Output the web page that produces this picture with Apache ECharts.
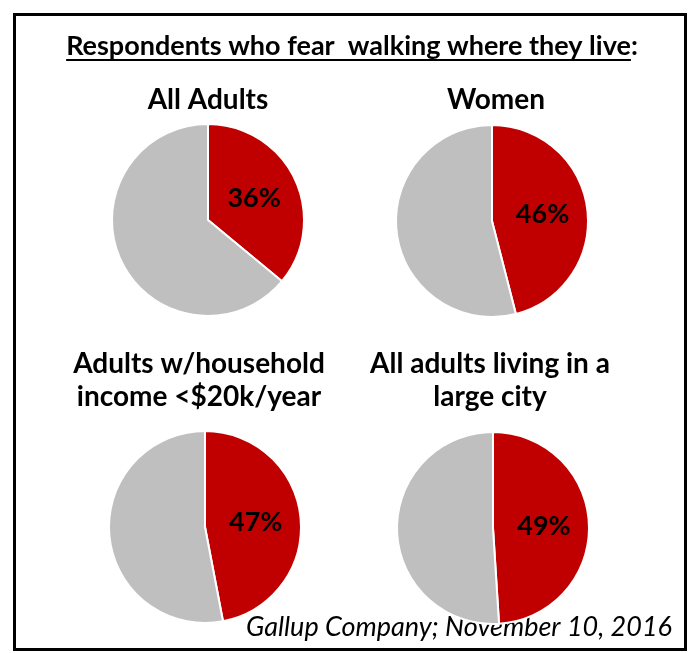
<!DOCTYPE html>
<html>
<head>
<meta charset="utf-8">
<script src="https://cdn.jsdelivr.net/npm/echarts@6/dist/echarts.min.js"></script>
<style>
  html, body { margin: 0; padding: 0; background: #fff; }
  #chart { width: 689px; height: 653px; }
</style>
</head>
<body>
<div id="chart"></div>
<script>
// Survey figures: share of each group that fears walking where they live
const headline = 'Respondents who fear  walking where they live';
const groupTitles = ['All Adults', 'Women', 'Adults w/household\nincome <$20k/year', 'All adults living in a\nlarge city'];
const fearShare = [36, 46, 47, 49];
const otherShare = [64, 54, 53, 51];
const sourceNote = 'Gallup Company; November 10, 2016';

const FONT_FAMILY = 'Lato, "Open Sans", sans-serif';
const RED = '#C00000';
const GREY = '#BFBFBF';

// layout of the 2x2 grid of pies
const pieCenters = [[208, 220], [492, 221], [205, 527], [493, 528]];
const pieTitleAt = [[208, 100], [496, 100], [199, 380], [490, 380]];
const PIE_RADIUS = 96;

function textWidth(str, font) {
  const ctx = document.createElement('canvas').getContext('2d');
  ctx.font = font;
  return ctx.measureText(str).width;
}

const headFont = 'bold 27px ' + FONT_FAMILY;
const headW = textWidth(headline, headFont);
const colonW = textWidth(':', headFont);
const headX = 352 - (headW + colonW) / 2;

const series = fearShare.map((v, i) => ({
  type: 'pie',
  center: pieCenters[i],
  radius: PIE_RADIUS,
  startAngle: 90,
  clockwise: true,
  silent: true,
  animation: false,
  labelLine: { show: false },
  itemStyle: { borderColor: '#fff', borderWidth: 2 },
  data: [
    {
      value: v,
      name: 'Fear',
      itemStyle: { color: RED },
      label: {
        show: true,
        position: 'inside',
        formatter: '{c}%',
        fontFamily: FONT_FAMILY,
        fontSize: 27,
        fontWeight: 'bold',
        color: '#000'
      }
    },
    {
      value: otherShare[i],
      name: 'Other',
      itemStyle: { color: GREY },
      label: { show: false }
    }
  ]
}));

const graphics = [
  {
    type: 'rect',
    shape: { x: 14.5, y: 14.5, width: 671, height: 635 },
    style: { fill: 'none', stroke: '#000', lineWidth: 3 },
    silent: true
  },
  {
    type: 'text',
    style: { text: headline, x: headX, y: 46, font: headFont, fill: '#000', textAlign: 'left', textVerticalAlign: 'middle' }
  },
  {
    type: 'text',
    style: { text: ':', x: headX + headW, y: 46, font: headFont, fill: '#000', textAlign: 'left', textVerticalAlign: 'middle' }
  },
  {
    type: 'rect',
    shape: { x: headX, y: 59, width: headW, height: 2 },
    style: { fill: '#000' }
  },
  {
    type: 'text',
    style: {
      text: sourceNote, x: 672, y: 627,
      font: 'italic 27px ' + FONT_FAMILY, fill: '#000',
      textAlign: 'right', textVerticalAlign: 'middle'
    }
  }
];

groupTitles.forEach((t, i) => {
  graphics.push({
    type: 'text',
    style: {
      text: t,
      x: pieTitleAt[i][0],
      y: pieTitleAt[i][1],
      font: 'bold 28px ' + FONT_FAMILY,
      lineHeight: 33,
      fill: '#000',
      textAlign: 'center',
      textVerticalAlign: 'middle'
    }
  });
});

const chart = echarts.init(document.getElementById('chart'), null, { renderer: 'canvas' });
chart.setOption({
  backgroundColor: '#fff',
  animation: false,
  series: series,
  graphic: graphics
});
</script>
</body>
</html>
